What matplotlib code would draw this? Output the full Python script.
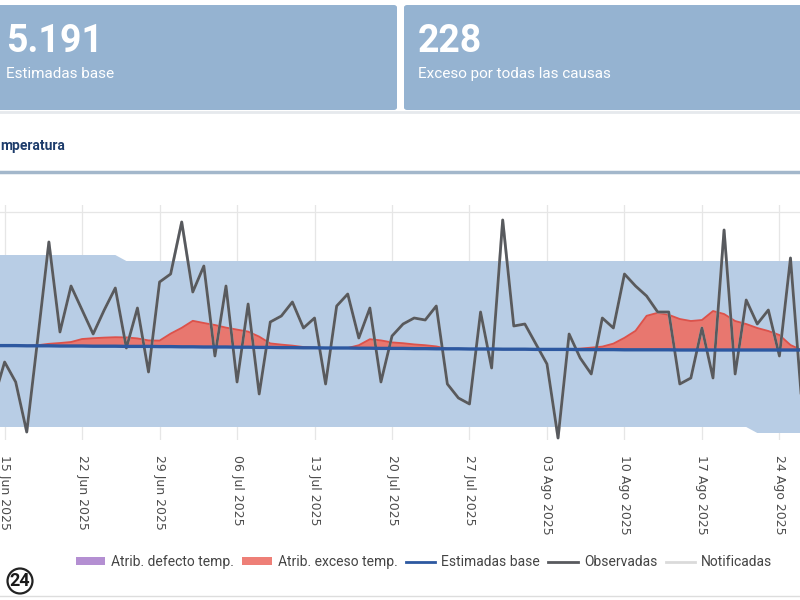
import matplotlib
matplotlib.use('Agg')
import matplotlib.pyplot as plt
import pandas as pd
from matplotlib.patches import FancyBboxPatch, Patch
from matplotlib.lines import Line2D

# daily series, 14 Jun - 26 Aug 2025 (the view is cropped on both sides)
dates = pd.date_range('2025-06-14', '2025-08-26', freq='D')

observadas = [26, 45, 35, 10, 57, 105, 60, 83, 71, 59,
              71, 82, 52, 72, 40, 85, 89, 115, 80, 93,
              48, 83, 35, 74, 29, 65, 68, 75, 62, 67,
              34, 73, 79, 57, 72, 35, 58, 64, 67, 66,
              73, 34, 27, 24, 70, 42, 116, 63, 64, 54,
              44, 7, 59, 47, 39, 67, 62, 89, 83, 78,
              70, 70, 34, 37, 62, 37, 111, 39, 76, 64,
              71, 48, 97, 26]

estimadas_base = [53.2, 53.2, 53.2, 53.1, 53.1, 53.1, 53.0, 53.0, 53.0, 52.9, 52.9, 52.9, 52.8, 52.8,
                  52.8, 52.7, 52.7, 52.6, 52.6, 52.5, 52.5, 52.5, 52.4, 52.4, 52.3, 52.3, 52.2, 52.2,
                  52.1, 52.1, 52.0, 52.0, 52.0, 51.9, 51.9, 51.8, 51.8, 51.8, 51.7, 51.7, 51.6, 51.6,
                  51.6, 51.5, 51.5, 51.5, 51.4, 51.4, 51.4, 51.3, 51.3, 51.3, 51.3, 51.2, 51.2, 51.2,
                  51.2, 51.1, 51.1, 51.1, 51.1, 51.1, 51.0, 51.0, 51.0, 51.0, 51.0, 51.0, 51.0, 51.0,
                  51.0, 51.0, 51.0, 51.0]

# confidence band around the baseline
banda_sup = [98.5] * 12 + [95.5] * 62
banda_inf = [12.5] * 69 + [9.5] * 5

# deaths attributable to excess / deficit temperature
exceso_temp = [0, 0, 0, 0,
               0.3, 1, 1.5, 2, 3.5, 4, 4.3, 4.5, 4.5, 4, 3, 3,
               6.5, 9.5, 13, 12, 11, 9.7, 8.8, 7.8, 5.4, 2, 1.5, 1, 0.4,
               0, 0, 0, 0, 1.5,
               4.5, 4, 3, 2.6, 2.1, 1.7, 1.2,
               0, 0, 0, 0, 0, 0, 0, 0, 0, 0, 0, 0, 0.5,
               1, 1.5, 3, 6, 9.5, 17, 18.5, 17.5, 15.5, 14.5, 15, 19.5, 18, 14.5, 13, 11, 9.5, 7.5, 2.5,
               0]
defecto_temp = [0] * 74

tick_dates = pd.date_range('2025-06-15', periods=11, freq='7D')
tick_labels = ['15 Jun 2025', '22 Jun 2025', '29 Jun 2025', '06 Jul 2025', '13 Jul 2025',
               '20 Jul 2025', '27 Jul 2025', '03 Ago 2025', '10 Ago 2025', '17 Ago 2025',
               '24 Ago 2025']

card_values = ['5.191', '228']
card_labels = ['Estimadas base', 'Exceso por todas las causas']

narrow = ['Roboto', 'DejaVu Sans']

W, H = 800, 600
fig = plt.figure(figsize=(8, 6), dpi=100)
fig.patch.set_facecolor('white')


def fy(py):
    return 1 - py / H


# summary cards
for i, (val, lab) in enumerate(zip(card_values, card_labels)):
    x0 = -10 if i == 0 else 404
    w = 407 if i == 0 else 410
    fig.patches.append(FancyBboxPatch((x0 / W, fy(110)), w / W, 105 / H,
                                      boxstyle='round,pad=0,rounding_size=0.004',
                                      transform=fig.transFigure, facecolor='#95b3d1',
                                      edgecolor='none', zorder=1))
    tx = 6 if i == 0 else 418
    fig.text(tx / W, fy(41), val, fontsize=27, fontweight='bold', color='white',
             va='center', ha='left', family=narrow)
    fig.text(tx / W, fy(74), lab, fontsize=11, color='white', va='center', ha='left',
             family=narrow)

fig.add_artist(Line2D([0, 1], [fy(112), fy(112)], color='#e6e9ed', lw=2, transform=fig.transFigure))
fig.add_artist(Line2D([0, 1], [fy(172), fy(172)], color='#a3b7cb', lw=2.5, transform=fig.transFigure))
fig.text(0, fy(146), 'mperatura', fontsize=10, fontweight='bold', color='#1d3c6b',
         va='center', ha='left', family=narrow)

# main chart
ax = fig.add_axes([0, fy(440), 1, (440 - 205) / H])
ax.fill_between(dates, banda_inf, banda_sup, color='#b8cde5', lw=0, zorder=1)
base_lo = [b - d for b, d in zip(estimadas_base, defecto_temp)]
ax.fill_between(dates, base_lo, estimadas_base, color='#b48fd2', lw=0, zorder=2)
exc_top = [b + e for b, e in zip(estimadas_base, exceso_temp)]
ax.fill_between(dates, estimadas_base, exc_top, facecolor='#e8776f', edgecolor='none', zorder=2)
ax.plot(dates, exc_top, color='#dc524b', lw=1.3, zorder=3)
ax.plot(dates, observadas, color='#d9d9d9', lw=2, zorder=3)
ax.plot(dates, observadas, color='#585a5e', lw=2, zorder=4)
ax.plot(dates, estimadas_base, color='#2d58a0', lw=2.4, zorder=5)

d0 = pd.Timestamp('2025-06-15')
ax.set_xlim(d0 - pd.Timedelta(hours=10), d0 + pd.Timedelta(days=71.86))
ax.set_ylim(6, 123.5)
ax.set_xticks(tick_dates)
ax.set_xticklabels(tick_labels, rotation=-90)
ax.set_yticks([30, 60, 90, 120])
ax.set_yticklabels([])
ax.tick_params(axis='x', length=0, pad=11, labelsize=9, labelcolor='#4d4d4d')
ax.tick_params(axis='y', length=0)
ax.grid(color='#e6e6e6', lw=0.9, zorder=0)
ax.set_axisbelow(True)
for s in ax.spines.values():
    s.set_visible(False)

handles = [Patch(facecolor='#b48fd2'), Patch(facecolor='#ee7f77'),
           Line2D([], [], color='#2d58a0', lw=2), Line2D([], [], color='#585a5e', lw=2),
           Line2D([], [], color='#dadada', lw=2)]
names = ['Atrib. defecto temp.', 'Atrib. exceso temp.', 'Estimadas base', 'Observadas', 'Notificadas']
fig.legend(handles, names, loc='center', bbox_to_anchor=(0.53, fy(562)), ncol=5,
           frameon=False, handlelength=2.1, handleheight=0.5, handletextpad=0.45,
           columnspacing=0.6, prop={'family': narrow, 'size': 10}, labelcolor='#444444')

# watermark logo
fig.text(20 / W, fy(581), '24', fontsize=13, fontweight='bold', color='#1a1a1a',
         ha='center', va='center', family=narrow,
         bbox=dict(boxstyle='circle,pad=0.12', fc='white', ec='#222222', lw=1.6))
fig.add_artist(Line2D([0, 1], [fy(596), fy(596)], color='#dddddd', lw=1, transform=fig.transFigure))

fig.savefig('out.png', dpi=100)
